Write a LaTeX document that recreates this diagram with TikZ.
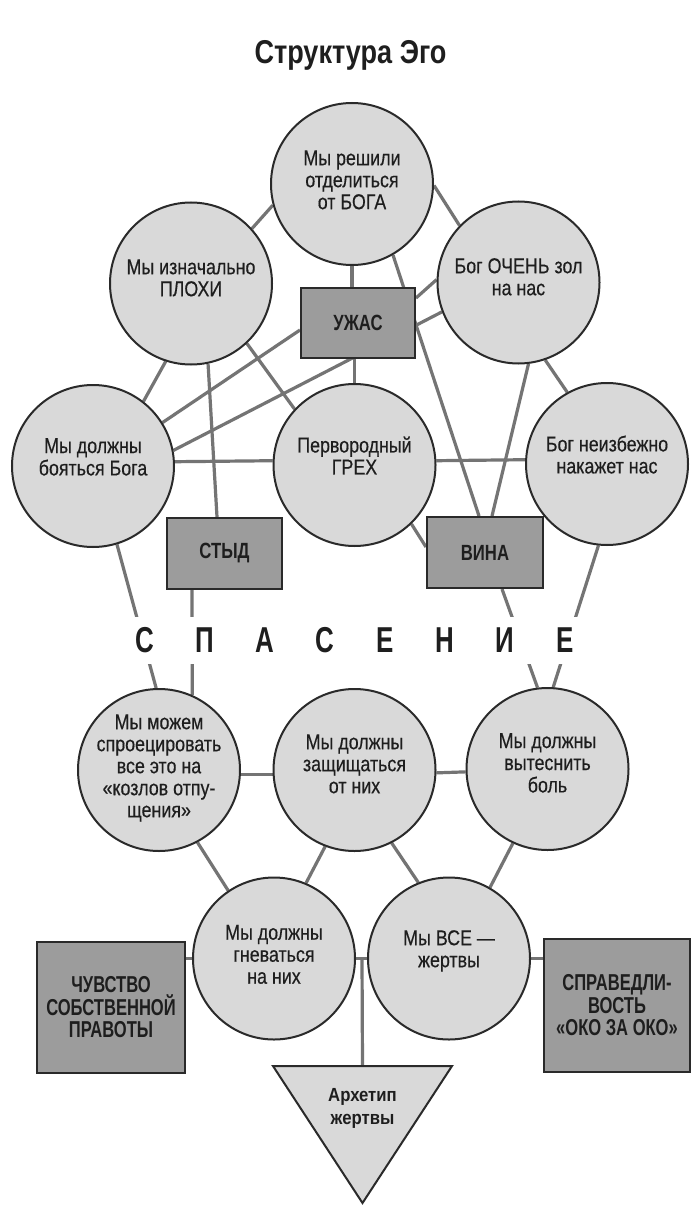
\documentclass[tikz,border=0pt]{standalone}
\usepackage{fontspec}
\setmainfont{Liberation Sans}
\newfontfamily\cf{Liberation Sans}[FakeStretch=0.83, FakeBold=0.4]
\newfontfamily\bcf{Liberation Sans}[FakeStretch=0.72]
\newfontfamily\ucf{Liberation Sans}[FakeStretch=0.76]
\newfontfamily\tcf{Liberation Sans}[FakeStretch=0.82]
\newfontfamily\acf{Liberation Sans}[FakeStretch=0.88]
\newfontfamily\scf{Liberation Sans}[FakeStretch=0.72]
\usetikzlibrary{backgrounds}
\definecolor{circfill}{HTML}{D9D9D9}
\definecolor{boxfill}{HTML}{9C9C9C}
\definecolor{linec}{HTML}{747474}
\definecolor{edgec}{HTML}{2A2A2A}
\definecolor{txt}{HTML}{1E1E1E}
\newcommand\cirtext[2]{\raisebox{#1}{\smash{\makebox[0pt]{\begin{tabular}{@{}c@{}}#2\end{tabular}}}}}
\tikzset{
  circ/.style={circle, draw=edgec, line width=2pt, fill=circfill, minimum size=162pt,
    inner sep=0pt, text=txt, font=\cf\fontsize{21.5}{22}\selectfont},
  sqbox/.style={rectangle, draw=edgec, line width=2pt, fill=boxfill, inner sep=0pt,
    text=txt, align=center, font=\ucf\bfseries\fontsize{22}{22.5}\selectfont},
  bigbox/.style={sqbox, font=\bcf\bfseries\fontsize{23}{22.5}\selectfont},
  conn/.style={draw=linec, line width=3.2pt},
}
\begin{document}
\begin{tikzpicture}[x=1pt,y=-1pt]
\useasboundingbox (0,0) rectangle (691,1209);

% title
\node[text=txt, font=\tcf\bfseries\fontsize{33}{36}\selectfont, anchor=base, inner sep=0pt] (title) at (350.5,64) {Структура Эго};

% circles
\node[circ] (A) at (352,184) {\cirtext{-8pt}{Мы решили\\отделиться\\от БОГА}};
\node[circ] (B) at (191,283.5) {\cirtext{-5pt}{Мы изначально\\ПЛОХИ}};
\node[circ] (C) at (518.5,282.5) {\cirtext{-5pt}{Бог ОЧЕНЬ зол\\на нас}};
\node[circ] (D) at (93,466) {\cirtext{2pt}{Мы должны\\бояться Бога}};
\node[circ] (E) at (354.5,465) {\cirtext{2pt}{Первородный\\ГРЕХ}};
\node[circ] (F) at (607,464) {\cirtext{2pt}{Бог неизбежно\\накажет нас}};
\node[circ] (G) at (159,770) {\cirtext{-8pt}{Мы можем\\спроецировать\\все это на\\«козлов отпу-\\щения»}};
\node[circ] (H) at (354.5,770) {\cirtext{-4pt}{Мы должны\\защищаться\\от них}};
\node[circ] (I) at (547.5,769) {\cirtext{-4pt}{Мы должны\\вытеснить\\боль}};
\node[circ] (J) at (274,958.5) {\cirtext{-8pt}{Мы должны\\гневаться\\на них}};
\node[circ] (K) at (449,958.5) {\cirtext{3pt}{Мы ВСЕ —\\жертвы}};

% boxes
\node[sqbox, minimum width=114pt, minimum height=70pt] (U) at (358,323) {УЖАС};
\node[sqbox, minimum width=115pt, minimum height=71pt] (S) at (224.5,553.5) {СТЫД};
\node[sqbox, minimum width=116pt, minimum height=71pt] (V) at (485,552.5) {ВИНА};
\node[bigbox, minimum width=148pt, minimum height=131pt] (L) at (111,1007.5) {ЧУВСТВО\\СОБСТВЕННОЙ\\ПРАВОТЫ};
\node[bigbox, minimum width=146pt, minimum height=133pt] (R) at (617,1005.5) {СПРАВЕДЛИ-\\ВОСТЬ\\«ОКО ЗА ОКО»};

% triangle
\draw[draw=edgec, line width=2pt, fill=circfill] (273,1066) -- (452,1066) -- (362.5,1203) -- cycle;
\coordinate (tri) at (362.5,1066);
\coordinate (jk) at (362,958.5);
\node[text=txt, align=center, font=\acf\bfseries\fontsize{19}{23}\selectfont] (arch) at (362.5,1108) {Архетип\\жертвы};

% salvation word
\node[fill=white, inner sep=0pt, minimum height=47pt, text=txt,
  font=\scf\bfseries\fontsize{36}{40}\selectfont] (sp) at (355,640)
  {\makebox[60pt]{С}\makebox[60pt]{П}\makebox[60pt]{А}\makebox[60pt]{С}\makebox[60pt]{Е}\makebox[60pt]{Н}\makebox[60pt]{И}\makebox[60pt]{Е}};

\begin{pgfonlayer}{background}
\fill[white] (0,0) rectangle (691,1209);
\draw[conn] (B.42) -- (A.195);
\draw[conn] (A.-1) -- (C.136);
\draw[conn] (A.south) -- (A.south |- U.north);
\draw[conn] (A.-60) -- ([xshift=-6pt]V.north);
\draw[conn] (C.178) -- ([yshift=25pt]U.east);
\draw[conn] (C.201) -- (D.11);
\draw[conn] ([yshift=-7pt]U.west) -- (D.32);
\draw[conn] (B.-108) -- (D.52);
\draw[conn] (B.-78) -- ([xshift=-7.5pt]S.north);
\draw[conn] (B.-47) -- (E.137);
\draw[conn] (E.north) -- (E.north |- U.south);
\draw[conn] (C.-83) -- ([xshift=7pt]V.north);
\draw[conn] (C.-71.5) -- (F.119);
\draw[conn] (D.3) -- (E.177);
\draw[conn] (E.3) -- (F.177);
\draw[conn] (E.-46) -- ([yshift=5.5pt]V.west);
\draw[conn] (D.-73) -- (G.92);
\draw[conn] ([xshift=-32.5pt]S.south) -- (G.66);
\draw[conn] ([xshift=17pt]V.south) -- (I.97);
\draw[conn] (F.-96) -- (I.86);
\draw[conn] (G.-3) -- (H.183);
\draw[conn] (H.-2) -- (I.182);
\draw[conn] (G.-62.5) -- (J.124);
\draw[conn] (H.-111) -- (J.67);
\draw[conn] (H.-63) -- (K.112.5);
\draw[conn] (I.-115) -- (K.60);
\draw[conn] (J.east) -- (K.west);
\draw[conn] (J.west) -- (J.west -| L.east);
\draw[conn] (K.east) -- (K.east -| R.west);
\draw[conn] (jk) -- (tri);
\end{pgfonlayer}
\end{tikzpicture}
\end{document}
